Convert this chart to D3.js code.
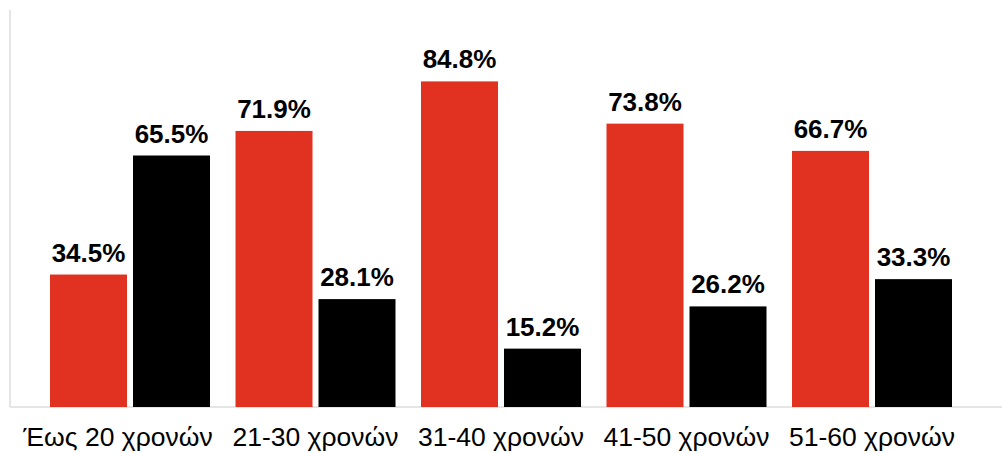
<!DOCTYPE html>
<html lang="el">
<head>
    <meta charset="UTF-8">
    <title>Ηλικιακές ομάδες</title>
    <script src="https://cdnjs.cloudflare.com/ajax/libs/d3/7.8.5/d3.min.js"></script>
    <style>
        body { margin: 0; padding: 0; background: #fff; }
        svg { display: block; font-family: "Liberation Sans", Arial, sans-serif; }
        .axis-line { stroke: #dcdcdc; stroke-width: 1.5px; }
        .value-label { font-size: 26px; font-weight: bold; fill: #000; }
        .cat-label { font-size: 26.5px; fill: #000; }
    </style>
</head>
<body>
    <div id="chart"></div>

    <script>
        const categories = ["Έως 20 χρονών", "21-30 χρονών", "31-40 χρονών", "41-50 χρονών", "51-60 χρονών"];
        const seriesNames = ["A", "B"];
        const redValues = [34.5, 71.9, 84.8, 73.8, 66.7];
        const blackValues = [65.5, 28.1, 15.2, 26.2, 33.3];
        const colors = ["#e03121", "#000000"];

        const width = 1002;
        const height = 453;
        const baseY = 407;

        const svg = d3.select("#chart")
            .append("svg")
            .attr("width", width)
            .attr("height", height);

        const x0 = d3.scaleBand()
            .domain(categories)
            .range([37.25, 964.75])
            .paddingInner(0.1375)
            .paddingOuter(0.06875);

        const x1 = d3.scaleBand()
            .domain(seriesNames)
            .range([0, x0.bandwidth()])
            .paddingInner(0.0723);

        const y = d3.scaleLinear()
            .domain([0, 106])
            .range([baseY, 0]);

        // left and bottom axis lines
        svg.append("line").attr("class", "axis-line")
            .attr("x1", 10).attr("x2", 10).attr("y1", 10).attr("y2", baseY);
        svg.append("line").attr("class", "axis-line")
            .attr("x1", 10).attr("x2", width).attr("y1", baseY).attr("y2", baseY);

        const rows = categories.map((c, i) => ({
            cat: c,
            vals: [redValues[i], blackValues[i]]
        }));

        const groups = svg.selectAll("g.group")
            .data(rows)
            .enter().append("g")
            .attr("class", "group")
            .attr("transform", d => `translate(${x0(d.cat)},0)`);

        groups.selectAll("rect")
            .data(d => d.vals.map((v, j) => ({ key: seriesNames[j], v: v, c: colors[j] })))
            .enter().append("rect")
            .attr("x", d => x1(d.key))
            .attr("y", d => y(d.v))
            .attr("width", x1.bandwidth())
            .attr("height", d => baseY - y(d.v))
            .attr("fill", d => d.c);

        groups.selectAll("text.value-label")
            .data(d => d.vals.map((v, j) => ({ key: seriesNames[j], v: v })))
            .enter().append("text")
            .attr("class", "value-label")
            .attr("x", d => x1(d.key) + x1.bandwidth() / 2)
            .attr("y", d => y(d.v) - 13)
            .attr("text-anchor", "middle")
            .text(d => d.v.toFixed(1) + "%");

        // first label is wider than its band, the original nudges it left
        svg.selectAll("text.cat-label")
            .data(categories)
            .enter().append("text")
            .attr("class", "cat-label")
            .attr("x", d => x0(d) + x0.bandwidth() / 2)
            .attr("dx", (d, i) => i === 0 ? -12 : 0)
            .attr("y", 446)
            .attr("text-anchor", "middle")
            .text(d => d);
    </script>
</body>
</html>
